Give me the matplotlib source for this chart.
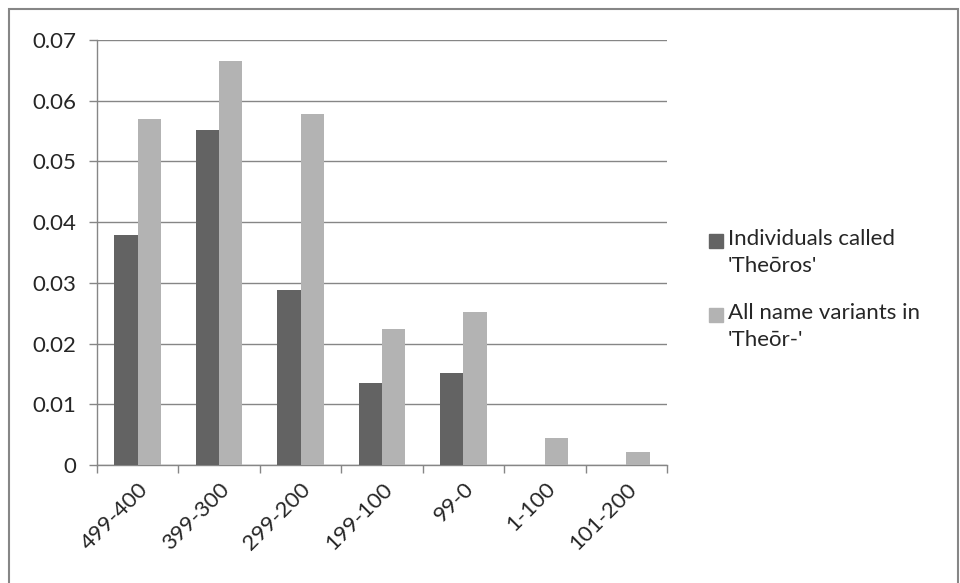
import matplotlib
matplotlib.use("Agg")
import matplotlib.pyplot as plt
import numpy as np
from matplotlib.patches import Rectangle

plt.rcParams['font.family'] = ['Lato', 'DejaVu Sans']

# data
periods = ['499-400', '399-300', '299-200', '199-100', '99-0', '1-100', '101-200']
theoros = [0.0379, 0.0552, 0.0288, 0.0135, 0.0152, 0.0, 0.0]
theor_variants = [0.0570, 0.0665, 0.0578, 0.0224, 0.0252, 0.0044, 0.0021]
series_names = ["Individuals called\n'Theōros'", "All name variants in\n'Theōr-'"]

dark = '#636363'
light = '#b3b3b3'
grid = '#868686'
txt = '#262626'
fs = 16

W, H = 960, 583
fig = plt.figure(figsize=(W / 100, H / 100), dpi=100)
ax = fig.add_axes([97 / W, 1 - 465 / H, 570 / W, 425 / H])

x = np.arange(len(periods))
w = 1 / 3.5
colors = [dark, light]
ax.bar(x - w / 2, theoros, w, color=dark, zorder=3)
ax.bar(x + w / 2, theor_variants, w, color=light, zorder=3)

ax.set_xlim(-0.5, len(periods) - 0.5)
ax.set_ylim(0, 0.07)
ax.set_yticks(np.arange(0, 0.0701, 0.01))
ax.set_yticklabels(['0'] + ['%.2f' % v for v in np.arange(0.01, 0.0701, 0.01)])
ax.yaxis.grid(True, color=grid, linewidth=1, zorder=0)
ax.set_axisbelow(True)

# category boundaries as major ticks, labels centered on bars
ax.set_xticks(np.arange(-0.5, len(periods), 1))
ax.set_xticklabels([])
ax.set_xticks(x, minor=True)
ax.set_xticklabels(periods, minor=True, rotation=45, ha='right', va='top',
                   rotation_mode='anchor', fontsize=fs, color=txt)
ax.tick_params(axis='x', which='minor', length=0, pad=10)
ax.tick_params(axis='x', which='major', length=6, color=grid, width=1)
ax.tick_params(axis='y', length=6, color=grid, width=1, labelsize=fs,
               labelcolor=txt, pad=9)

for s in ['top', 'right']:
    ax.spines[s].set_visible(False)
for s in ['left', 'bottom']:
    ax.spines[s].set_color(grid)
    ax.spines[s].set_linewidth(1)

# legend: square beside first line of each two-line label
leg_tops = [234, 308]
for name, col, top in zip(series_names, colors, leg_tops):
    fig.patches.append(Rectangle((709 / W, 1 - (top + 14) / H), 14 / W, 14 / H,
                                 transform=fig.transFigure, color=col))
    fig.text(728 / W, 1 - (top - 5) / H, name, fontsize=fs, color=txt,
             va='top', ha='left', linespacing=1.45,
             transform=fig.transFigure)

# outer chart border
fig.patches.append(Rectangle((9 / W, -0.05), 949 / W, 1 - 9 / H + 0.05,
                             transform=fig.transFigure, fill=False,
                             edgecolor=grid, linewidth=1.5))

fig.savefig('out.png', dpi=100, facecolor='white')
